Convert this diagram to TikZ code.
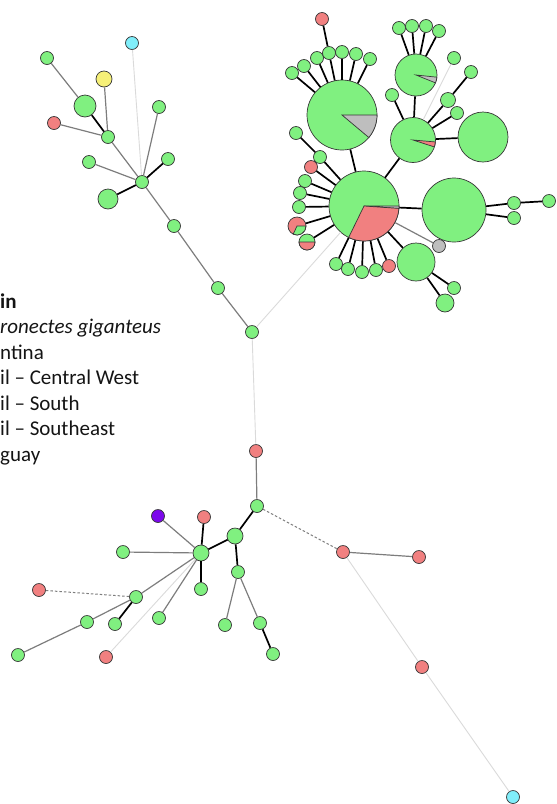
\documentclass[tikz,border=0pt]{standalone}
\usepackage{fontspec}
\setmainfont{Carlito}
\usepackage{tikz}

\definecolor{hapgreen}{RGB}{128,240,128}
\definecolor{hapred}{RGB}{241,128,128}
\definecolor{hapcyan}{RGB}{128,238,250}
\definecolor{hapyellow}{RGB}{246,240,120}
\definecolor{happurple}{RGB}{124,8,236}
\definecolor{hapgray}{RGB}{190,190,190}
\definecolor{rim}{RGB}{55,55,55}
\definecolor{midline}{RGB}{125,125,125}
\definecolor{paleline}{RGB}{218,218,218}
\definecolor{ink}{RGB}{20,20,20}

\tikzset{
  hap/.style={circle, draw=rim, line width=0.7pt, inner sep=0pt,
    minimum size=13pt, fill=hapgreen},
  strong/.style={draw=black, line width=1.7pt},
  weak/.style={draw=midline, line width=1.2pt},
  faint/.style={draw=paleline, line width=0.9pt},
  gap/.style={draw=midline, line width=1pt, dashed, dash pattern=on 2.5pt off 2pt},
  wedge/.style={draw=rim, line width=0.7pt},
  legend/.style={anchor=base west, inner sep=0pt, text=ink,
    font=\fontsize{21}{25}\selectfont}
}

\begin{document}
\begin{tikzpicture}[x=1pt, y=-1pt]
    \useasboundingbox (0,0) rectangle (557,804);

    % upper left branch
    \node[hap] (n1) at (47,58) {};
    \node[hap, fill=hapcyan] (cyanA) at (132,43) {};
    \node[hap, fill=hapyellow, minimum size=16pt] (yel) at (104,79) {};
    \node[hap, minimum size=22pt] (bigA) at (85,106) {};
    \node[hap] (n2) at (159,107) {};
    \node[hap, fill=hapred] (redA) at (54,123) {};
    \node[hap] (hubA) at (108,137) {};
    \node[hap] (n3) at (89,162) {};
    \node[hap] (n4) at (168,159) {};
    \node[hap] (hubB) at (142,182) {};
    \node[hap, minimum size=20pt] (bigB) at (108,199) {};
    \node[hap] (n5) at (174,226) {};
    \node[hap] (n6) at (218,288) {};
    \node[hap] (n7) at (252,332) {};

    % lower branch
    \node[hap, fill=hapred] (redB) at (256,451) {};
    \node[hap] (m1) at (257,506) {};
    \node[hap, minimum size=16pt] (m2) at (235,536) {};
    \node[hap, minimum size=16pt] (hubC) at (201,553) {};
    \node[hap] (m3) at (238,572) {};
    \node[hap, fill=happurple] (purp) at (158,516) {};
    \node[hap, fill=hapred] (redC) at (204,517) {};
    \node[hap] (m4) at (123,552) {};
    \node[hap] (m5) at (201,589) {};
    \node[hap, fill=hapred] (redD) at (39,590) {};
    \node[hap] (m6) at (136,597) {};
    \node[hap] (m7) at (87,622) {};
    \node[hap] (m8) at (115,624) {};
    \node[hap] (m9) at (159,618) {};
    \node[hap] (m10) at (225,625) {};
    \node[hap] (m11) at (260,623) {};
    \node[hap] (m12) at (18,655) {};
    \node[hap, fill=hapred] (redE) at (106,657) {};
    \node[hap] (m13) at (273,654) {};
    \node[hap, fill=hapred] (redF) at (343,552) {};
    \node[hap, fill=hapred] (redG) at (419,557) {};
    \node[hap, fill=hapred] (redH) at (422,667) {};
    \node[hap, fill=hapcyan] (cyanB) at (513,797) {};

    % upper right cluster
    \node[hap, minimum size=70pt] (pieA) at (342,115) {};
    \node[hap, minimum size=42pt] (pieB) at (416,75) {};
    \node[hap, minimum size=45pt] (pieC) at (413,140) {};
    \node[hap, minimum size=50pt] (bigD) at (483,137) {};
    \node[hap, minimum size=70pt] (pieE) at (364,206) {};
    \node[hap, minimum size=64pt] (bigF) at (454,210) {};
    \node[hap, minimum size=38pt] (bigG) at (416,262) {};
    \node[hap, fill=hapred] (redT) at (322,19) {};
    \node[hap, fill=hapgray] (grayN) at (439,246) {};
    \node[hap, minimum size=15pt] (c4) at (448,100) {};
    \node[hap, minimum size=18pt] (g2) at (445,303) {};
    \node[hap, fill=hapred] (e3) at (311,167) {};
    \node[hap, fill=hapred] (e13) at (389,266) {};
    \node[hap, fill=hapred, minimum size=18pt] (e7) at (297,226) {};
    \node[hap, minimum size=16pt] (e8) at (307,242) {};

    \foreach \n/\x/\y in {a1/292/73, a2/304/66, a3/317/58, a4/329/53,
        a5/342/52, a6/356/54, a7/370/59, b1/399/28, b2/412/26, b3/426/26,
        b4/439/31, c1/454/58, c2/471/72, c3/392/95, c5/457/113,
        f1/514/203, f2/514/218, f3/549/201, g1/454/288,
        e1/296/133, e2/320/157, e4/305/181, e5/300/193, e6/299/207,
        e9/336/264, e10/348/269, e11/362/272, e12/376/270}
        \node[hap] (\n) at (\x,\y) {};

    % pie slices
    \filldraw[wedge, fill=hapgray] (pieA.center) -- ++(0:35)
        arc[start angle=0, end angle=40, radius=35] -- cycle;
    \filldraw[wedge, fill=hapgray] (pieB.center) -- ++(6:21)
        arc[start angle=6, end angle=22, radius=21] -- cycle;
    \filldraw[wedge, fill=hapred] (pieC.center) -- ++(5:22.5)
        arc[start angle=5, end angle=18, radius=22.5] -- cycle;
    \filldraw[wedge, fill=hapgray] (pieE.center) -- ++(0:35)
        arc[start angle=0, end angle=4, radius=35] -- cycle;
    \filldraw[wedge, fill=hapred] (pieE.center) -- ++(4:35)
        arc[start angle=4, end angle=116, radius=35] -- cycle;
    \filldraw[wedge, fill=hapgreen] (e7.center) -- ++(0:9)
        arc[start angle=0, end angle=115, radius=9] -- cycle;
    \filldraw[wedge, fill=hapred] (e8.center) -- ++(0:8)
        arc[start angle=0, end angle=180, radius=8] -- cycle;

    % links, upper left
    \draw[weak] (n1) -- (bigA);
    \draw[strong] (bigA) -- (hubA);
    \draw[weak] (yel) -- (hubA);
    \draw[weak] (redA) -- (hubA);
    \draw[weak] (hubA) -- (hubB);
    \draw[faint] (cyanA) -- (hubB);
    \draw[weak] (n2) -- (hubB);
    \draw[weak] (n3) -- (hubB);
    \draw[strong] (n4) -- (hubB);
    \draw[strong] (bigB) -- (hubB);
    \draw[weak] (hubB) -- (n5);
    \draw[weak] (n5) -- (n6);
    \draw[weak] (n6) -- (n7);
    \draw[faint] (n7) -- (pieE);
    \draw[faint] (n7) -- (redB);

    % links, lower part
    \draw[weak] (redB) -- (m1);
    \draw[strong] (m1) -- (m2);
    \draw[gap] (m1) -- (redF);
    \draw[strong] (m2) -- (hubC);
    \draw[strong] (m2) -- (m3);
    \draw[weak] (hubC) -- (purp);
    \draw[strong] (hubC) -- (redC);
    \draw[weak] (hubC) -- (m4);
    \draw[strong] (hubC) -- (m5);
    \draw[weak] (hubC) -- (m6);
    \draw[weak] (m6) -- (m7);
    \draw[weak] (m7) -- (m12);
    \draw[strong] (m6) -- (m8);
    \draw[gap] (m6) -- (redD);
    \draw[faint] (hubC) -- (redE);
    \draw[weak] (hubC) -- (m9);
    \draw[weak] (m3) -- (m10);
    \draw[weak] (m3) -- (m11);
    \draw[strong] (m11) -- (m13);
    \draw[weak] (redF) -- (redG);
    \draw[faint] (redF) -- (redH);
    \draw[faint] (redH) -- (cyanB);

    % links, upper right
    \draw[strong] (redT) -- (a4);
    \foreach \n in {a1, a2, a3, a4, a5, a6, a7}
        \draw[strong] (\n) -- (pieA);
    \foreach \n in {b1, b2, b3, b4}
        \draw[strong] (\n) -- (pieB);
    \foreach \n in {c3, c4, c5, pieB, bigD}
        \draw[strong] (\n) -- (pieC);
    \draw[faint] (c1) -- (pieC);
    \draw[strong] (c2) -- (c4);
    \draw[strong] (pieA) -- (pieE);
    \draw[strong] (pieC) -- (pieE);
    \draw[strong] (pieE) -- (bigF);
    \draw[strong] (bigF) -- (f1);
    \draw[strong] (bigF) -- (f2);
    \draw[strong] (f1) -- (f3);
    \draw[weak] (pieE) -- (grayN);
    \draw[strong] (pieE) -- (bigG);
    \draw[strong] (bigG) -- (g1);
    \draw[strong] (bigG) -- (g2);
    \draw[strong] (e1) -- (e2);
    \foreach \n in {e2, e3, e4, e5, e6, e7, e8, e9, e10, e11, e12, e13}
        \draw[strong] (\n) -- (pieE);

    % legend
    \node[legend, font=\fontsize{21}{25}\selectfont\bfseries] (lgHead) at (0,308) {in};
    \node[legend, font=\fontsize{21}{25}\selectfont\itshape] (lgSpecies) at (0,333.5) {ronectes giganteus};
    \node[legend] (lgArg) at (0,359) {ntina};
    \node[legend] (lgCW) at (0,384.5) {il -- Central West};
    \node[legend] (lgS) at (0,410) {il -- South};
    \node[legend] (lgSE) at (0,435.5) {il -- Southeast};
    \node[legend] (lgUy) at (0,461) {guay};
\end{tikzpicture}
\end{document}
